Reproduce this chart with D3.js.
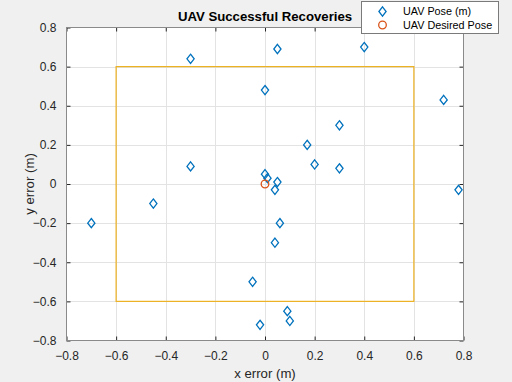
<!DOCTYPE html>
<html><head><meta charset="utf-8">
<script src="https://cdn.jsdelivr.net/npm/d3@7"></script>
<style>
html,body{margin:0;padding:0;background:#f0f0f0;}
svg{display:block;font-family:"Liberation Sans",Arial,Helvetica,sans-serif;}
</style></head>
<body>
<svg id="chart" width="512" height="382"></svg>
<script>
const poseX = [-0.30, 0.05, 0.40, 0.00, 0.72, 0.30, 0.17, 0.20, 0.30, -0.30, 0.00, 0.01, 0.05, 0.04, -0.45, -0.70, 0.06, 0.04, 0.78, -0.05, 0.09, 0.10, -0.02];
const poseY = [0.64, 0.69, 0.70, 0.48, 0.43, 0.30, 0.20, 0.10, 0.08, 0.09, 0.05, 0.03, 0.01, -0.03, -0.10, -0.20, -0.20, -0.30, -0.03, -0.50, -0.65, -0.70, -0.72];
const desiredX = [0];
const desiredY = [0];
const boundsX = [-0.6, 0.6];
const boundsY = [-0.6, 0.6];
const xTicks = [-0.8, -0.6, -0.4, -0.2, 0, 0.2, 0.4, 0.6, 0.8];
const yTicks = [-0.8, -0.6, -0.4, -0.2, 0, 0.2, 0.4, 0.6, 0.8];
const title = "UAV Successful Recoveries";
const xLabel = "x error (m)";
const yLabel = "y error (m)";
const legendLabels = ["UAV Pose (m)", "UAV Desired Pose"];

const L = 66.5, R = 463.5, T = 27.5, B = 340.5;
const svg = d3.select("#chart");
const x = d3.scaleLinear().domain([-0.8, 0.8]).range([L, R]);
const y = d3.scaleLinear().domain([-0.8, 0.8]).range([B, T]);
const fmt = d => d === 0 ? "0" : d3.format(".1f")(d);

svg.append("rect").attr("x", L).attr("y", T).attr("width", R - L).attr("height", B - T).attr("fill", "#fff");

// grid
const g = svg.append("g");
g.selectAll(".gx").data(xTicks.slice(1, -1)).join("line")
  .attr("x1", d => Math.round(x(d)) + 0.5).attr("x2", d => Math.round(x(d)) + 0.5)
  .attr("y1", T).attr("y2", B).attr("stroke", "#e3e3e3").attr("stroke-width", 1);
g.selectAll(".gy").data(yTicks.slice(1, -1)).join("line")
  .attr("y1", d => Math.round(y(d)) + 0.5).attr("y2", d => Math.round(y(d)) + 0.5)
  .attr("x1", L).attr("x2", R).attr("stroke", "#e3e3e3").attr("stroke-width", 1);

// axes via d3 axis
const axStyle = sel => {
  sel.select(".domain").remove();
  sel.selectAll(".tick line").attr("stroke", "#262626");
  sel.selectAll(".tick text").attr("fill", "#262626").attr("font-size", "12px").attr("font-family", "Liberation Sans, Arial, sans-serif");
};
svg.append("g").attr("transform", `translate(0,${B})`)
  .call(d3.axisBottom(x).tickValues(xTicks).tickFormat(fmt).tickSizeInner(-4).tickSizeOuter(0).tickPadding(11))
  .call(axStyle);
svg.append("g").attr("transform", `translate(0,${T})`)
  .call(d3.axisTop(x).tickValues(xTicks).tickFormat("").tickSizeInner(-4).tickSizeOuter(0))
  .call(axStyle);
svg.append("g").attr("transform", `translate(${L},0)`)
  .call(d3.axisLeft(y).tickValues(yTicks).tickFormat(fmt).tickSizeInner(-4).tickSizeOuter(0).tickPadding(10))
  .call(axStyle);
svg.append("g").attr("transform", `translate(${R},0)`)
  .call(d3.axisRight(y).tickValues(yTicks).tickFormat("").tickSizeInner(-4).tickSizeOuter(0))
  .call(axStyle);

svg.append("rect").attr("x", L).attr("y", T).attr("width", R - L).attr("height", B - T)
  .attr("fill", "none").attr("stroke", "#8a8a8a").attr("stroke-width", 1);

// bounds rectangle
svg.append("rect")
  .attr("x", x(boundsX[0])).attr("y", y(boundsY[1]))
  .attr("width", x(boundsX[1]) - x(boundsX[0])).attr("height", y(boundsY[0]) - y(boundsY[1]))
  .attr("fill", "none").attr("stroke", "#EDB120").attr("stroke-width", 1.2);

const diamond = "M0,-4.6L3.6,0L0,4.6L-3.6,0Z";
const pts = poseX.map((v, i) => ({x: v, y: poseY[i]}));
svg.append("g").selectAll("path").data(pts).join("path")
  .attr("d", diamond).attr("transform", d => `translate(${x(d.x)},${y(d.y)})`)
  .attr("fill", "none").attr("stroke", "#0072BD").attr("stroke-width", 1.3);

const des = desiredX.map((v, i) => ({x: v, y: desiredY[i]}));
svg.append("g").selectAll("circle").data(des).join("circle")
  .attr("cx", d => x(d.x)).attr("cy", d => y(d.y)).attr("r", 3.8)
  .attr("fill", "none").attr("stroke", "#D95319").attr("stroke-width", 1.3);

// title & labels
svg.append("text").attr("x", (L + R) / 2).attr("y", 21).attr("text-anchor", "middle")
  .attr("font-size", "13.2px").attr("font-weight", "bold").attr("fill", "#000").text(title);
svg.append("text").attr("x", (L + R) / 2).attr("y", 378).attr("text-anchor", "middle")
  .attr("font-size", "13.2px").attr("fill", "#262626").text(xLabel);
svg.append("text").attr("transform", `translate(34,${(T + B) / 2}) rotate(-90)`).attr("text-anchor", "middle")
  .attr("font-size", "13.2px").attr("fill", "#262626").text(yLabel);

// legend
const lg = svg.append("g");
lg.append("rect").attr("x", 361.5).attr("y", 1.5).attr("width", 137).attr("height", 32)
  .attr("fill", "#fff").attr("stroke", "#7a7a7a").attr("stroke-width", 1);
lg.append("path").attr("d", diamond).attr("transform", "translate(382.5,11.5)")
  .attr("fill", "none").attr("stroke", "#0072BD").attr("stroke-width", 1.3);
lg.append("circle").attr("cx", 382.5).attr("cy", 25).attr("r", 3.8)
  .attr("fill", "none").attr("stroke", "#D95319").attr("stroke-width", 1.3);
lg.selectAll("text").data(legendLabels).join("text")
  .attr("x", 403).attr("y", (d, i) => 15.2 + i * 13.8)
  .attr("font-size", "10.8px").attr("fill", "#000").text(d => d);
</script>
</body></html>
